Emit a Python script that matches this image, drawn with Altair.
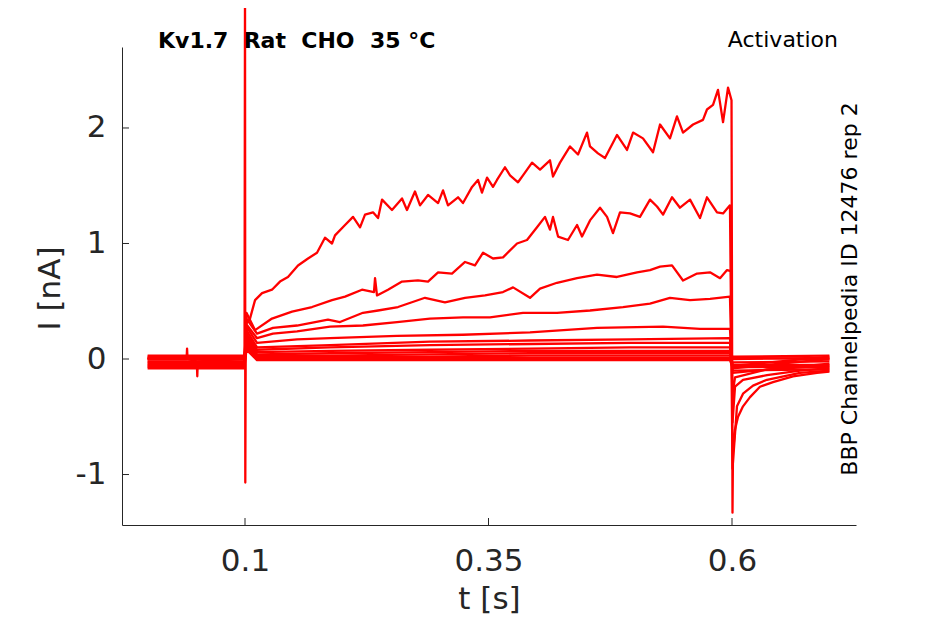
import altair as alt
import pandas as pd

# ---------------- axis ticks ----------------
x_ticks = [0.1, 0.35, 0.6]
y_ticks = [-1, 0, 1, 2]

# ---------------- trace A (largest step) ----------------
A_pre_t = [0.0, 0.0400, 0.0405, 0.0410, 0.0505, 0.0510, 0.0515, 0.0995]
A_pre_i = [0.00, 0.00, 0.09, 0.00, -0.02, -0.15, -0.02, 0.00]
spike_t = [0.1000, 0.1003, 0.1008]
spike_i = [3.30, -1.07, 0.30]
A_t = [0.1051, 0.1103, 0.1175, 0.1277, 0.1359, 0.1441, 0.1544, 0.1647, 0.1739, 0.1821,
       0.1893, 0.1924, 0.2027, 0.2109, 0.2181, 0.2232, 0.2314, 0.2366, 0.2407, 0.2509,
       0.2612, 0.2663, 0.2745, 0.2797, 0.2879, 0.2982, 0.3033, 0.3084, 0.3187, 0.3238,
       0.3331, 0.3392, 0.3433, 0.3485, 0.3546, 0.3587, 0.3669, 0.3721, 0.3803, 0.3854,
       0.3947, 0.4029, 0.4131, 0.4162, 0.4234, 0.4337, 0.4419, 0.4511, 0.4542, 0.4624,
       0.4696, 0.4819, 0.4922, 0.4984, 0.5086, 0.5189, 0.5261, 0.5363, 0.5435, 0.5497,
       0.5600, 0.5702, 0.5743, 0.5805, 0.5856, 0.5908, 0.5959, 0.5995]
A_i = [0.35, 0.51, 0.57, 0.60, 0.67, 0.71, 0.81, 0.87, 0.92, 1.05,
       1.00, 1.07, 1.16, 1.23, 1.14, 1.25, 1.27, 1.22, 1.38, 1.29,
       1.39, 1.29, 1.45, 1.33, 1.42, 1.35, 1.46, 1.33, 1.40, 1.35,
       1.49, 1.55, 1.44, 1.57, 1.49, 1.55, 1.66, 1.59, 1.53, 1.59,
       1.70, 1.64, 1.72, 1.58, 1.70, 1.84, 1.77, 1.96, 1.84, 1.78,
       1.74, 1.94, 1.81, 1.96, 1.91, 1.79, 2.03, 1.91, 2.10, 1.96,
       2.03, 2.07, 2.16, 2.20, 2.33, 2.05, 2.35, 2.24]
A_tail_t = [0.6005, 0.6010, 0.6031, 0.6062, 0.6113, 0.6185, 0.6287, 0.6421, 0.6626, 0.6873, 0.7000]
A_tail_i = [-1.33, -0.81, -0.61, -0.50, -0.41, -0.33, -0.24, -0.20, -0.15, -0.12, -0.11]

# ---------------- trace B ----------------
B_t = [0.1103, 0.1277, 0.1483, 0.1688, 0.1893, 0.2027, 0.2201, 0.2324, 0.2335, 0.2355,
       0.2468, 0.2612, 0.2776, 0.2879, 0.2982, 0.3125, 0.3259, 0.3361, 0.3444, 0.3546,
       0.3649, 0.3793, 0.3895, 0.3998, 0.4080, 0.4131, 0.4162, 0.4214, 0.4316, 0.4409,
       0.4460, 0.4542, 0.4645, 0.4717, 0.4778, 0.4850, 0.4953, 0.5055, 0.5158, 0.5230,
       0.5292, 0.5384, 0.5466, 0.5569, 0.5671, 0.5743, 0.5846, 0.5908, 0.5979]
B_i = [0.25, 0.35, 0.41, 0.45, 0.51, 0.54, 0.60, 0.58, 0.70, 0.55,
       0.60, 0.67, 0.68, 0.67, 0.75, 0.74, 0.84, 0.81, 0.92, 0.87,
       0.88, 1.00, 1.03, 1.14, 1.23, 1.12, 1.23, 1.06, 1.03, 1.16,
       1.06, 1.20, 1.31, 1.23, 1.09, 1.27, 1.26, 1.23, 1.38, 1.32,
       1.25, 1.40, 1.31, 1.38, 1.22, 1.40, 1.27, 1.26, 1.33]
B_tail_t = [0.6005, 0.6051, 0.6113, 0.6216, 0.6359, 0.6698, 0.7000]
B_tail_i = [-0.95, -0.41, -0.30, -0.23, -0.18, -0.12, -0.10]

# ---------------- trace C ----------------
C_t = [0.1123, 0.1287, 0.1534, 0.1852, 0.1975, 0.2211, 0.2366, 0.2571, 0.2848, 0.3053,
       0.3259, 0.3464, 0.3649, 0.3752, 0.3926, 0.4029, 0.4203, 0.4409, 0.4614, 0.4819,
       0.5025, 0.5158, 0.5261, 0.5384, 0.5497, 0.5641, 0.5774, 0.5877, 0.5949, 0.5990]
C_i = [0.22, 0.27, 0.29, 0.34, 0.32, 0.40, 0.42, 0.45, 0.53, 0.49,
       0.53, 0.55, 0.58, 0.62, 0.53, 0.61, 0.66, 0.70, 0.73, 0.71,
       0.75, 0.77, 0.80, 0.81, 0.68, 0.74, 0.75, 0.70, 0.77, 0.76]
C_tail_t = [0.6005, 0.6031, 0.6113, 0.6359, 0.6698, 0.7000]
C_tail_i = [-0.55, -0.24, -0.18, -0.14, -0.10, -0.08]

# ---------------- trace D ----------------
D_t = [0.1123, 0.1287, 0.1534, 0.1873, 0.2211, 0.2561, 0.2899, 0.3238, 0.3515, 0.3854,
       0.4203, 0.4542, 0.4881, 0.5158, 0.5363, 0.5569, 0.5774, 0.5979]
D_i = [0.18, 0.22, 0.24, 0.28, 0.29, 0.32, 0.35, 0.36, 0.36, 0.40,
       0.40, 0.42, 0.45, 0.48, 0.53, 0.51, 0.52, 0.54]
D_tail_t = [0.6005, 0.6031, 0.6359, 0.7000]
D_tail_i = [-0.30, -0.16, -0.09, -0.06]

# ---------------- trace E ----------------
E_t = [0.1123, 0.1534, 0.1873, 0.2561, 0.3238, 0.3926, 0.4614, 0.5292, 0.5671, 0.5979]
E_i = [0.14, 0.17, 0.18, 0.20, 0.21, 0.23, 0.27, 0.28, 0.26, 0.26]

# ---------------- smaller traces F..N on a common time grid ----------------
small_t = [0.1123, 0.1873, 0.2899, 0.3926, 0.4953, 0.5979]
F_i = [0.10, 0.12, 0.15, 0.16, 0.17, 0.18]
G_i = [0.08, 0.10, 0.12, 0.13, 0.14, 0.14]
H_i = [0.06, 0.07, 0.08, 0.09, 0.10, 0.10]
I_i = [0.04, 0.05, 0.06, 0.07, 0.07, 0.07]
J_i = [0.03, 0.03, 0.04, 0.05, 0.05, 0.05]
K_i = [0.02, 0.02, 0.02, 0.03, 0.03, 0.03]
L_i = [0.01, 0.01, 0.01, 0.01, 0.01, 0.01]
M_i = [0.00, 0.00, 0.00, 0.00, 0.00, 0.00]
N_i = [-0.01, -0.01, -0.01, -0.01, -0.01, -0.01]

# holding current before the step, transient peak at onset, and level after the step
trace_names = ["B", "C", "D", "E", "F", "G", "H", "I", "J", "K", "L", "M", "N"]
hold_level = [-0.05, 0.01, -0.07, 0.02, -0.03, 0.00, -0.08, 0.03, -0.04, 0.01, -0.02, 0.00, -0.06]
onset_peak = [0.40, 0.35, 0.30, 0.28, 0.25, 0.22, 0.20, 0.18, 0.16, 0.14, 0.12, 0.10, 0.08]
post_first = [None, None, None, -0.12, -0.08, -0.06, -0.10, 0.02, -0.05, 0.00, -0.03, 0.01, -0.07]
post_last = [None, None, None, -0.04, 0.00, 0.02, -0.09, 0.03, -0.05, 0.01, -0.02, 0.00, -0.07]

pre_t = [0.0, 0.0995]
onset_t = 0.1015
post_t = [0.6005, 0.7000]

title_text = "Kv1.7\u00a0\u00a0Rat\u00a0\u00a0CHO\u00a0\u00a035\u00a0°C"
right_text = "Activation"
side_text = "BBP Channelpedia ID 12476 rep 2"

# ---------------- build long table ----------------
rows = []


def add(name, ts, vs):
    for tt, vv in zip(ts, vs):
        rows.append({"trace": name, "t": tt, "i": vv})


add("A", A_pre_t, A_pre_i)
add("A", spike_t, spike_i)
add("A", A_t, A_i)
add("A", A_tail_t, A_tail_i)

step_data = {
    "B": (B_t, B_i), "C": (C_t, C_i), "D": (D_t, D_i), "E": (E_t, E_i),
    "F": (small_t, F_i), "G": (small_t, G_i), "H": (small_t, H_i), "I": (small_t, I_i),
    "J": (small_t, J_i), "K": (small_t, K_i), "L": (small_t, L_i), "M": (small_t, M_i),
    "N": (small_t, N_i),
}
tail_data = {"B": (B_tail_t, B_tail_i), "C": (C_tail_t, C_tail_i), "D": (D_tail_t, D_tail_i)}

for k, name in enumerate(trace_names):
    add(name, pre_t, [hold_level[k], hold_level[k]])
    add(name, [onset_t], [onset_peak[k]])
    ts, vs = step_data[name]
    add(name, ts, vs)
    if name in tail_data:
        add(name, *tail_data[name])
    else:
        add(name, post_t, [post_first[k], post_last[k]])

df = pd.DataFrame(rows)

# ---------------- chart ----------------
W, H = 734, 478
FONT = "DejaVu Sans"
GREY = "#262626"

x_scale = alt.Scale(domain=[-0.0263, 0.7273], nice=False, zero=False)
y_scale = alt.Scale(domain=[-1.437, 2.701], nice=False, zero=False)

x_axis = alt.Axis(
    values=x_ticks, labelExpr="'' + datum.value", title="t [s]",
    ticks=False, tickSize=0, grid=False, domainColor=GREY, domainWidth=1,
    labelFont=FONT, labelFontSize=31, labelColor=GREY, labelPadding=21,
    labelFlush=False, labelOverlap=False,
    titleFont=FONT, titleFontSize=31, titleFontWeight="normal", titleColor=GREY,
    titleY=83, titleBaseline="alphabetic")
y_axis = alt.Axis(
    values=y_ticks, labelExpr="'' + datum.value", title="I [nA]",
    ticks=False, tickSize=0, grid=False, domainColor=GREY, domainWidth=1,
    labelFont=FONT, labelFontSize=31, labelColor=GREY, labelPadding=16,
    labelFlush=False, labelOverlap=False,
    titleFont=FONT, titleFontSize=31, titleFontWeight="normal", titleColor=GREY,
    titleX=-63, titleY=241, titleAngle=270, titleBaseline="alphabetic")

lines = alt.Chart(df).mark_line(color="#ff0000", strokeWidth=2.3, clip=False, strokeJoin="round").encode(
    x=alt.X("t:Q", scale=x_scale, axis=x_axis),
    y=alt.Y("i:Q", scale=y_scale, axis=y_axis),
    detail="trace:N",
)

xticks = alt.Chart(pd.DataFrame({"t": x_ticks})).mark_rule(color=GREY, strokeWidth=1).encode(
    x=alt.X("t:Q", scale=x_scale, axis=x_axis), y=alt.value(H), y2=alt.value(H - 7))
yticks = alt.Chart(pd.DataFrame({"i": y_ticks})).mark_rule(color=GREY, strokeWidth=1).encode(
    y=alt.Y("i:Q", scale=y_scale, axis=y_axis), x=alt.value(0), x2=alt.value(7))

title = alt.Chart(pd.DataFrame({"txt": [title_text]})).mark_text(
    font=FONT, fontSize=22, fontWeight="bold", align="left", baseline="alphabetic", color="black"
).encode(text="txt:N", x=alt.value(36), y=alt.value(1))

right = alt.Chart(pd.DataFrame({"txt": [right_text]})).mark_text(
    font=FONT, fontSize=22, align="right", baseline="alphabetic", color="black"
).encode(text="txt:N", x=alt.value(716), y=alt.value(0))

side = alt.Chart(pd.DataFrame({"txt": [side_text]})).mark_text(
    font=FONT, fontSize=22, align="center", baseline="alphabetic", color="black", angle=270
).encode(text="txt:N", x=alt.value(735), y=alt.value(242))

chart = alt.layer(lines, xticks, yticks, title, right, side).properties(
    width=W, height=H,
    autosize=alt.AutoSizeParams(type="none"),
    padding={"left": 114, "top": 39, "right": 81, "bottom": 91},
    background="white",
).configure_view(stroke=None)

chart.save("out.html", embed_options={"renderer": "svg", "actions": False})
